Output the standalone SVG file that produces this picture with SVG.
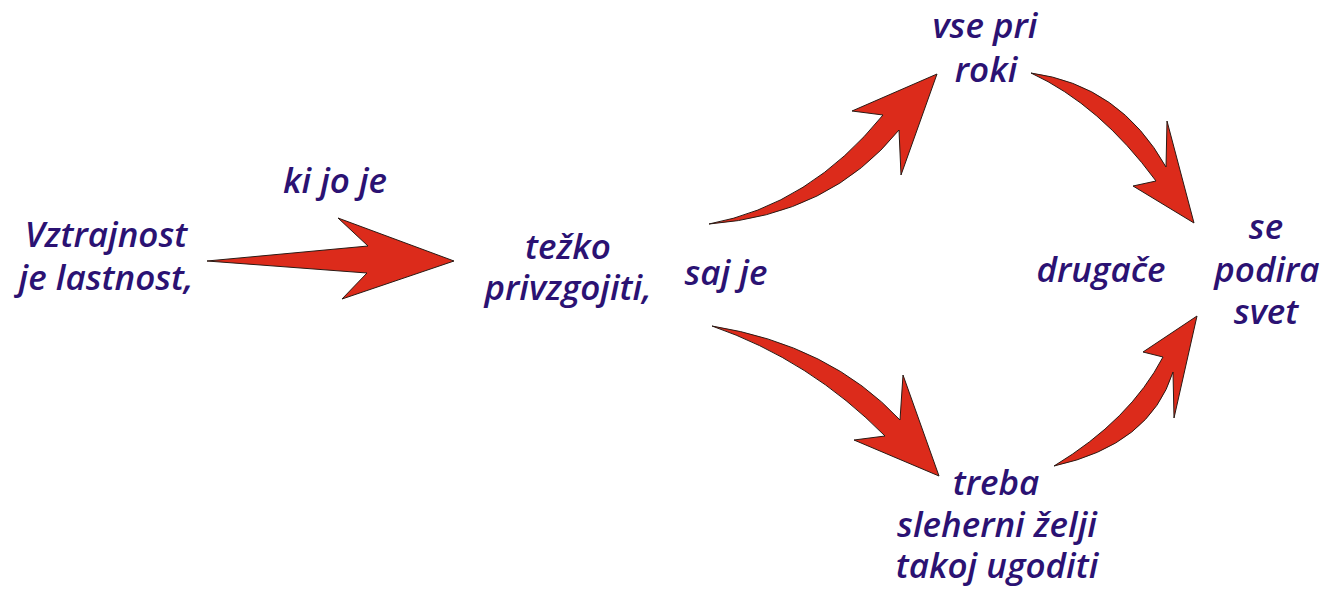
<svg xmlns="http://www.w3.org/2000/svg" width="1325" height="593" viewBox="0 0 1325 593">
<style>
text{font-family:"Open Sans","Noto Sans","Liberation Sans",sans-serif;font-style:italic;font-weight:600;font-size:35px;fill:#2b1273;text-anchor:middle}
.arrow{fill:#dc2b1b;stroke:#2a1a14;stroke-width:1;stroke-linejoin:miter}
</style>
<rect width="1325" height="593" fill="#fff"/>
<g id="connectors">
<path id="a1" class="arrow" d="M207,261 L368,246 L338,218 L454,261 L342,299 L367,273 Z"/>
<path id="a2" class="arrow" d="M709,224 Q810,205 883,115 L852,111 L937,74 L901,175 L899,130 Q830,215 709,224 Z"/>
<path id="a3" class="arrow" d="M1031,73 Q1120,85 1166,167 L1167,121 L1194,223 L1133,186 L1156,181 Q1100,105 1031,73 Z"/>
<path id="a4" class="arrow" d="M712,326 Q830,345 900,420 L903,375 L939,476 L854,440 L885,436 Q810,360 712,326 Z"/>
<path id="a5" class="arrow" d="M1054,466 Q1130,420 1163,357 L1143,352 L1197,316 L1174,418 L1173,372 Q1150,445 1054,466 Z"/>
</g>
<g id="n-vztrajnost"><text x="106" y="247">Vztrajnost</text><text x="106" y="290">je lastnost,</text></g>
<g id="n-kijoje"><text x="335" y="193">ki jo je</text></g>
<g id="n-tezko"><text x="568" y="259">težko</text><text x="568" y="300">privzgojiti,</text></g>
<g id="n-sajje"><text x="726" y="285">saj je</text></g>
<g id="n-vsepriroki"><text x="985" y="38">vse pri</text><text x="986" y="82">roki</text></g>
<g id="n-drugace"><text x="1101" y="282">drugače</text></g>
<g id="n-sepodira"><text x="1266" y="239">se</text><text x="1267" y="282">podira</text><text x="1266" y="324">svet</text></g>
<g id="n-treba"><text x="996" y="495">treba</text><text x="997" y="537">sleherni želji</text><text x="997" y="578">takoj ugoditi</text></g>
</svg>
